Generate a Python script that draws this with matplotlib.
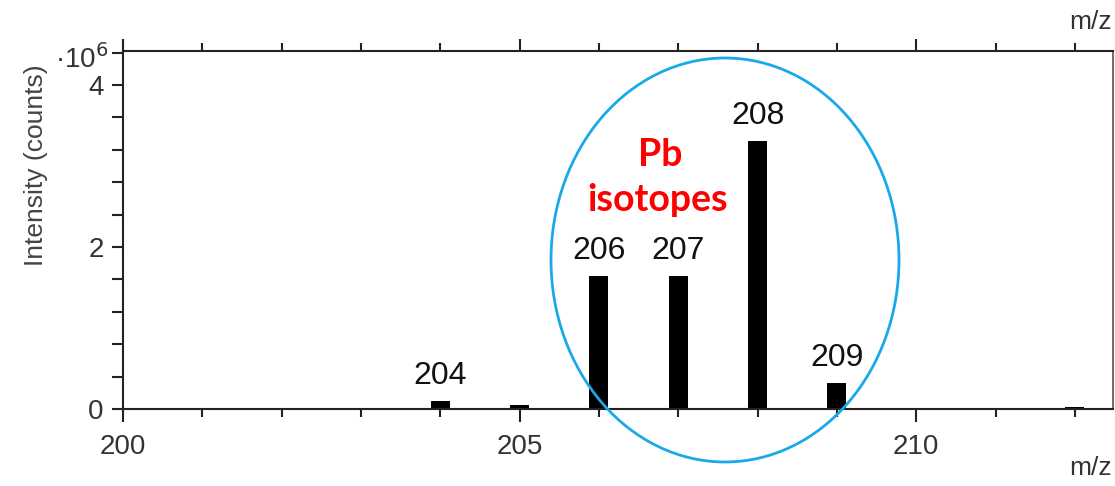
import matplotlib.pyplot as plt
from matplotlib.patches import Ellipse
from matplotlib.ticker import MultipleLocator

# m/z peaks and intensities (x 10^6 counts)
mz = [204, 205, 206, 207, 208, 209, 212]
intensity = [0.10, 0.05, 1.64, 1.64, 3.31, 0.32, 0.03]
labelled = [204, 206, 207, 208, 209]

plt.rcParams['font.family'] = ['Liberation Sans', 'DejaVu Sans']

fig = plt.figure(figsize=(11.15, 4.86), dpi=100)
ax = fig.add_axes([0.1103, 0.1584, 0.8879, 0.7367])

ax.bar(mz, intensity, width=0.24, color='black')
for m, v in zip(mz, intensity):
    if m in labelled:
        ax.text(m, v + 0.12, str(m), ha='center', va='bottom', fontsize=23, color='#111111')

ax.set_xlim(200, 212.48)
ax.set_ylim(0, 4.42)

ax.xaxis.set_major_locator(MultipleLocator(5))
ax.xaxis.set_minor_locator(MultipleLocator(1))
ax.yaxis.set_major_locator(MultipleLocator(2))
ax.yaxis.set_minor_locator(MultipleLocator(0.4))

ax.tick_params(axis='x', which='both', direction='out', top=True, bottom=True,
               labelsize=20, labelcolor='#333333', color='#222222', pad=9)
ax.tick_params(axis='x', which='major', length=9, width=1.5)
ax.tick_params(axis='x', which='minor', length=6, width=1.5)
ax.tick_params(axis='y', which='both', direction='out', left=True, right=False,
               labelsize=20, labelcolor='#333333', color='#222222', length=8, width=1.5, pad=6)

for s in ['left', 'bottom', 'top']:
    ax.spines[s].set_linewidth(1.5)
    ax.spines[s].set_color('#222222')
ax.spines['right'].set_linewidth(1.2)
ax.spines['right'].set_color('#555555')

# left spine sticks out above the frame
ax.plot([0, 0], [1.0, 1.03], transform=ax.transAxes, color='#222222', lw=1.5, clip_on=False)

fig.text(0.032, 0.66, 'Intensity (counts)', rotation=90, ha='center', va='center',
         fontsize=19, color='#444444')
fig.text(0.097, 0.878, '·10$^6$', ha='right', va='center', fontsize=20, color='#333333')
fig.text(0.978, 0.955, 'm/z', ha='center', va='center', fontsize=19, color='#333333')
fig.text(0.978, 0.037, 'm/z', ha='center', va='center', fontsize=19, color='#333333')

fig.text(0.592, 0.681, 'Pb', ha='center', va='center', fontsize=27, fontweight='bold',
         color='#ff0000', family=['Lato', 'DejaVu Sans'])
fig.text(0.590, 0.588, 'isotopes', ha='center', va='center', fontsize=27, fontweight='bold',
         color='#ff0000', family=['Lato', 'DejaVu Sans'])

ell = Ellipse((725 / 1115, 1 - 260 / 486), 348 / 1115, 404 / 486, transform=fig.transFigure,
              fill=False, edgecolor='#1aa9e8', lw=2)
fig.add_artist(ell)

fig.savefig('out.png', dpi=100)
